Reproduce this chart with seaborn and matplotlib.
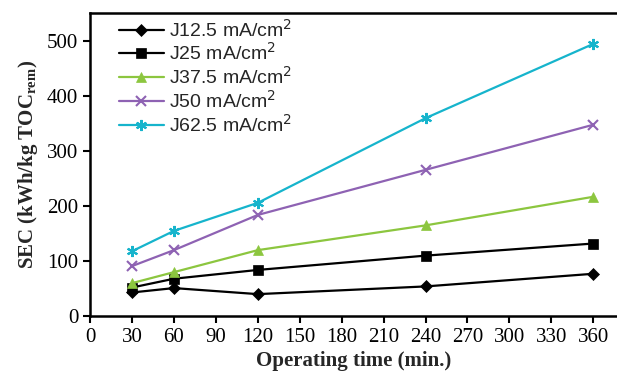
import matplotlib
matplotlib.use("Agg")
import matplotlib.pyplot as plt
import seaborn as sns
import pandas as pd

time_min = [30, 60, 120, 240, 360]
series_names = ["J12.5 mA/cm$^2$", "J25 mA/cm$^2$", "J37.5 mA/cm$^2$", "J50 mA/cm$^2$", "J62.5 mA/cm$^2$"]
j12_5 = [43, 51, 40, 54, 77]
j25 = [52, 68, 84, 110, 132]
j37_5 = [60, 80, 120, 165, 217]
j50 = [91, 120, 184, 266, 348]
j62_5 = [118, 155, 206, 360, 495]
x_ticks = [0, 30, 60, 90, 120, 150, 180, 210, 240, 270, 300, 330, 360]
y_ticks = [0, 100, 200, 300, 400, 500]

colors = ["#000000", "#000000", "#8cc63f", "#8e62b3", "#16b4cc"]
markers = ["D", "s", "^", "x", (6, 2, 0)]
msizes = [6, 7, 7, 7, 8]

rows = []
for name, vals in zip(series_names, [j12_5, j25, j37_5, j50, j62_5]):
    for t, v in zip(time_min, vals):
        rows.append({"time": t, "SEC": v, "series": name})
df = pd.DataFrame(rows)

sns.set_style("ticks")
plt.rcParams["font.family"] = ["Liberation Serif", "DejaVu Serif"]

fig = plt.figure(figsize=(6.17, 3.75), dpi=100)
ax = fig.add_axes([0.146, 0.157, 0.854, 0.808])

for name, c, m, ms in zip(series_names, colors, markers, msizes):
    sub = df[df["series"] == name]
    sns.lineplot(data=sub, x="time", y="SEC", ax=ax, color=c, marker=m,
                 markersize=ms, markeredgecolor=c, markeredgewidth=1.5 if m in ("x", (6, 2, 0)) else 0.5,
                 linewidth=1.6, label=name, errorbar=None)

ax.set_xlim(0, 377)
ax.set_ylim(0, 551)
ax.set_xticks(x_ticks)
ax.set_yticks(y_ticks)
ax.tick_params(axis="both", labelsize=15, direction="out", length=5, width=1.5, colors="black")
for s in ["left", "bottom", "top"]:
    ax.spines[s].set_linewidth(1.8)
    ax.spines[s].set_color("black")
ax.spines["right"].set_visible(False)

ax.set_xlabel("Operating time (min.)", fontsize=15, fontweight="bold", labelpad=3)
ax.set_ylabel("SEC (kWh/kg TOC$_{\\mathregular{rem}}$)", fontsize=15, fontweight="bold", labelpad=5)

leg = ax.legend(loc="upper left", frameon=False, prop={"family": "Liberation Sans", "size": 14},
                handlelength=2.3, handletextpad=0.25, labelspacing=0.1, borderaxespad=0.0,
                bbox_to_anchor=(0.04, 1.008))

fig.savefig("out.png", dpi=100)
